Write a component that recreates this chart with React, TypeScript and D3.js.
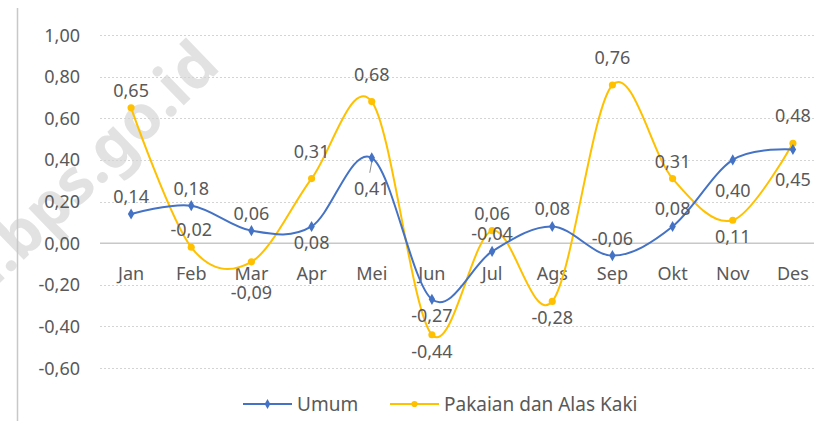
import React, { useEffect, useRef } from "react";
import * as d3 from "d3";

const months = ["Jan", "Feb", "Mar", "Apr", "Mei", "Jun", "Jul", "Ags", "Sep", "Okt", "Nov", "Des"];
const umum = [0.14, 0.18, 0.06, 0.08, 0.41, -0.27, -0.04, 0.08, -0.06, 0.08, 0.4, 0.45];
const pakaian = [0.65, -0.02, -0.09, 0.31, 0.68, -0.44, 0.06, -0.28, 0.76, 0.31, 0.11, 0.48];
const yTicks = [-0.6, -0.4, -0.2, 0, 0.2, 0.4, 0.6, 0.8, 1.0];

// where each data label sits: t = above, T = higher, b = below, B = lower
const umumLabelPos = ["t", "t", "t", "b", "B", "b", "t", "t", "t", "t", "B", "B"];
const pakaianLabelPos = ["t", "t", "B", "T", "T", "b", "t", "b", "T", "t", "b", "T"];

const fmt = (v: number) => v.toFixed(2).replace(".", ",");
const offsets: Record<string, number> = { t: -11, T: -21, b: 23, B: 37 };

const FONT = "'Noto Sans', sans-serif";
const TEXT = "#595959";

const App: React.FC = () => {
  const ref = useRef<SVGSVGElement>(null);

  useEffect(() => {
    if (!ref.current) return;
    const svg = d3.select(ref.current);
    svg.selectAll("*").remove();

    const x = d3.scalePoint<string>().domain(months).range([101, 823]).padding(0.5);
    const y = d3.scaleLinear().domain([-0.6, 1.0]).range([368, 35]);

    // watermark
    svg
      .append("text")
      .attr("transform", "translate(-21,303) rotate(-44)")
      .attr("font-family", FONT)
      .attr("font-weight", "bold")
      .attr("font-size", 62)
      .attr("fill", "#e2e2e2")
      .text("u.bps.go.id");

    // left border
    svg.append("line").attr("x1", 17.5).attr("x2", 17.5).attr("y1", 8).attr("y2", 421)
      .attr("stroke", "#c8c8c8").attr("stroke-width", 1.5);

    // gridlines
    svg.append("g").selectAll("line").data(yTicks.filter((t) => t !== 0)).join("line")
      .attr("x1", 100).attr("x2", 814)
      .attr("y1", (d) => Math.round(y(d)) + 0.5).attr("y2", (d) => Math.round(y(d)) + 0.5)
      .attr("stroke", "#d4d4d4").attr("stroke-dasharray", "2,2");
    svg.append("line").attr("x1", 100).attr("x2", 814)
      .attr("y1", y(0)).attr("y2", y(0))
      .attr("stroke", "#c8c8c8").attr("stroke-width", 1.5);

    // y tick labels
    svg.append("g").selectAll("text").data(yTicks).join("text")
      .attr("x", 80).attr("y", (d) => y(d) + 6.5)
      .attr("text-anchor", "end")
      .attr("font-family", FONT).attr("font-size", 18).attr("fill", TEXT)
      .text((d) => fmt(d));

    // month labels
    svg.append("g").selectAll("text").data(months).join("text")
      .attr("x", (d) => x(d)!).attr("y", 280)
      .attr("text-anchor", "middle")
      .attr("font-family", FONT).attr("font-size", 18).attr("fill", TEXT)
      .text((d) => d);

    const line = d3.line<number>()
      .x((_, i) => x(months[i])!)
      .y((d) => y(d))
      .curve(d3.curveCardinal.tension(0));

    const series = [
      { values: pakaian, color: "#FFC000", pos: pakaianLabelPos, marker: "circle" },
      { values: umum, color: "#4472C4", pos: umumLabelPos, marker: "diamond" },
    ];

    series.forEach((s) => {
      svg.append("path").datum(s.values).attr("d", line)
        .attr("fill", "none").attr("stroke", s.color).attr("stroke-width", 2);
      const sym = d3.symbol().type(s.marker === "circle" ? d3.symbolCircle : d3.symbolDiamond)
        .size(s.marker === "circle" ? 40 : 36);
      svg.append("g").selectAll("path").data(s.values).join("path")
        .attr("transform", (d, i) => `translate(${x(months[i])},${y(d)})`)
        .attr("d", sym).attr("fill", s.color);
    });

    // leader line for Mei Umum
    svg.append("line")
      .attr("x1", x("Mei")!).attr("y1", y(umum[4]) + 4)
      .attr("x2", x("Mei")! - 2).attr("y2", y(umum[4]) + 15)
      .attr("stroke", "#8c8c8c").attr("stroke-width", 1);

    series.forEach((s) => {
      svg.append("g").selectAll("text").data(s.values).join("text")
        .attr("x", (_, i) => x(months[i])!)
        .attr("y", (d, i) => y(d) + offsets[s.pos[i]])
        .attr("text-anchor", "middle")
        .attr("font-family", FONT).attr("font-size", 18).attr("fill", TEXT)
        .text((d) => fmt(d));
    });

    // legend
    const legend = [
      { name: "Umum", color: "#4472C4", marker: d3.symbolDiamond, size: 28, x0: 243 },
      { name: "Pakaian dan Alas Kaki", color: "#FFC000", marker: d3.symbolCircle, size: 30, x0: 390 },
    ];
    legend.forEach((l) => {
      const g = svg.append("g");
      g.append("line").attr("x1", l.x0).attr("x2", l.x0 + 49).attr("y1", 404).attr("y2", 404)
        .attr("stroke", l.color).attr("stroke-width", 2);
      g.append("path").attr("transform", `translate(${l.x0 + 24.5},404)`)
        .attr("d", d3.symbol().type(l.marker).size(l.size)).attr("fill", l.color);
      g.append("text").attr("x", l.x0 + 54).attr("y", 411)
        .attr("font-family", FONT).attr("font-size", 19).attr("fill", TEXT)
        .text(l.name);
    });
  }, []);

  return <svg ref={ref} width={814} height={421} style={{ position: "absolute", left: 0, top: 0 }} />;
};

export default App;
